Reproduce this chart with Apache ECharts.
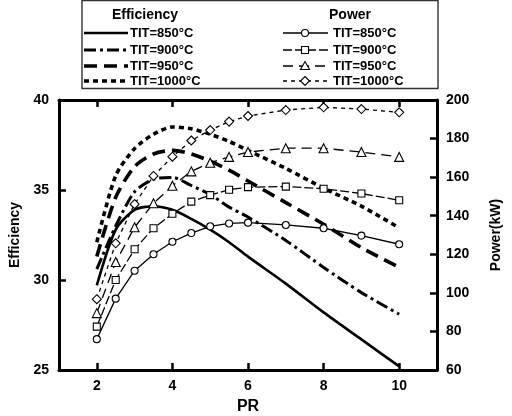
<!DOCTYPE html>
<html>
<head>
<meta charset="utf-8">
<script src="https://cdn.jsdelivr.net/npm/echarts@6/dist/echarts.min.js"></script>
<style>
  html, body { margin: 0; padding: 0; background: #fff; }
  #chart { width: 512px; height: 416px; }
</style>
</head>
<body>
<div id="chart"></div>
<script>
// Pressure ratio sampling points shared by every curve
const prValues = [2, 2.5, 3, 3.5, 4, 4.5, 5, 5.5, 6, 7, 8, 9, 10];
const prTicks = [2, 4, 6, 8, 10];
const effTicks = [25, 30, 35, 40];
const powerTicks = [60, 80, 100, 120, 140, 160, 180, 200];

// Efficiency (left axis) for each turbine inlet temperature
const effTIT850  = [29.7, 32.8, 33.9, 34.1, 33.9, 33.4, 32.8, 32.1, 31.3, 29.8, 28.2, 26.7, 25.2];
const effTIT900  = [30.6, 33.0, 34.9, 35.6, 35.7, 35.25, 34.75, 34.05, 33.5, 32.2, 30.7, 29.3, 28.1];
const effTIT950  = [31.3, 34.6, 36.3, 37.0, 37.2, 37.0, 36.6, 36.1, 35.5, 34.3, 33.1, 31.8, 30.7];
const effTIT1000 = [32.1, 35.8, 37.3, 38.1, 38.5, 38.4, 38.1, 37.7, 37.2, 36.2, 35.1, 34.1, 32.9];

// Power output in kW (right axis)
const powTIT850  = [76, 97, 111.5, 120, 126.5, 131, 134.5, 136, 136.4, 135.2, 133.5, 129.7, 125.2];
const powTIT900  = [82.5, 106.7, 122.6, 133.5, 141, 147.3, 150.7, 153.5, 154.8, 155.1, 154, 151.5, 148];
const powTIT950  = [89.5, 116, 134, 146.5, 155.5, 163, 167.5, 170.5, 173, 175, 175, 173, 170.5];
const powTIT1000 = [96.7, 125.7, 146, 160.6, 170.6, 179, 184.4, 188.8, 191.7, 194.8, 196.2, 195.3, 193.6];

const labels = ['TIT=850°C', 'TIT=900°C', 'TIT=950°C', 'TIT=1000°C'];

const pairs = arr => prValues.map((x, i) => [x, arr[i]]);
const FONT = 'Liberation Sans, Arial, sans-serif';

const effStyles = [
  { type: 'solid', width: 2.6 },
  { type: [12, 4, 3, 4], width: 3 },
  { type: [13, 7], width: 3.6 },
  { type: [5, 4], width: 3.6 }
];
const powStyles = [
  { type: 'solid', symbol: 'circle' },
  { type: [9, 3], symbol: 'rect' },
  { type: [10, 6], symbol: 'triangle' },
  { type: [4, 4], symbol: 'diamond' }
];

const effData = [effTIT850, effTIT900, effTIT950, effTIT1000];
const powData = [powTIT850, powTIT900, powTIT950, powTIT1000];

const series = [];
effData.forEach((d, k) => {
  series.push({
    name: 'Efficiency ' + labels[k],
    type: 'line',
    xAxisIndex: 0,
    yAxisIndex: 0,
    data: pairs(d),
    smooth: 0.25,
    showSymbol: false,
    symbol: 'none',
    lineStyle: { color: '#000', width: effStyles[k].width, type: effStyles[k].type, cap: 'butt' },
    z: 2
  });
});
powData.forEach((d, k) => {
  series.push({
    name: 'Power ' + labels[k],
    type: 'line',
    xAxisIndex: 0,
    yAxisIndex: 1,
    data: pairs(d),
    smooth: false,
    symbol: powStyles[k].symbol,
    symbolSize: powStyles[k].symbol === 'triangle' ? 9 : (powStyles[k].symbol === 'diamond' ? 9 : 7),
    itemStyle: { color: '#fff', borderColor: '#000', borderWidth: 1.1 },
    lineStyle: { color: '#000', width: 1.3, type: powStyles[k].type },
    z: 3
  });
});

// Legend box drawn as graphic elements: two columns with headers
const rowsY = [33, 50, 66, 81];
const legendGraphics = [
  { type: 'rect', shape: { x: 82, y: 0.5, width: 356, height: 88 },
    style: { fill: '#fff', stroke: '#333', lineWidth: 1.4 } },
  { type: 'text', x: 145, y: 15, style: { text: 'Efficiency', font: 'bold 14px ' + FONT, fill: '#000', align: 'center', verticalAlign: 'middle' } },
  { type: 'text', x: 350, y: 15, style: { text: 'Power', font: 'bold 14px ' + FONT, fill: '#000', align: 'center', verticalAlign: 'middle' } }
];
rowsY.forEach((y, k) => {
  legendGraphics.push({
    type: 'line', shape: { x1: 84, y1: y, x2: 128, y2: y },
    style: { stroke: '#000', lineWidth: effStyles[k].width, lineDash: effStyles[k].type === 'solid' ? null : effStyles[k].type }
  });
  legendGraphics.push({
    type: 'text', x: 130, y: y, style: { text: labels[k], font: 'bold 13px ' + FONT, fill: '#000', align: 'left', verticalAlign: 'middle' }
  });
  legendGraphics.push({
    type: 'line', shape: { x1: 283, y1: y, x2: 328, y2: y },
    style: { stroke: '#000', lineWidth: 1.3, lineDash: powStyles[k].type === 'solid' ? null : powStyles[k].type }
  });
  const cx = 305;
  let marker;
  if (k === 0) {
    marker = { type: 'circle', shape: { cx: cx, cy: y, r: 3.5 } };
  } else if (k === 1) {
    marker = { type: 'rect', shape: { x: cx - 3.5, y: y - 3.5, width: 7, height: 7 } };
  } else if (k === 2) {
    marker = { type: 'polygon', shape: { points: [[cx, y - 4.5], [cx + 4.5, y + 3.5], [cx - 4.5, y + 3.5]] } };
  } else {
    marker = { type: 'polygon', shape: { points: [[cx, y - 4.5], [cx + 4.5, y], [cx, y + 4.5], [cx - 4.5, y]] } };
  }
  marker.style = { fill: '#fff', stroke: '#000', lineWidth: 1.1 };
  legendGraphics.push(marker);
  legendGraphics.push({
    type: 'text', x: 333, y: y, style: { text: labels[k], font: 'bold 13px ' + FONT, fill: '#000', align: 'left', verticalAlign: 'middle' }
  });
});

const axisLine = { show: true, onZero: false, lineStyle: { color: '#000', width: 3 } };
const tickStyle = { color: '#000', width: 2.5 };
const labelStyle = { color: '#000', fontFamily: FONT, fontWeight: 'bold', fontSize: 14 };

const option = {
  animation: false,
  backgroundColor: '#fff',
  grid: { left: 59, right: 75, top: 100, bottom: 46, containLabel: false, outerBoundsMode: 'none' },
  xAxis: [
    {
      type: 'value', min: 1, max: 11, position: 'bottom',
      axisLine: axisLine,
      axisTick: { show: true, inside: true, length: 7, lineStyle: tickStyle, customValues: prTicks },
      axisLabel: Object.assign({ margin: 9, customValues: prTicks }, labelStyle),
      splitLine: { show: false },
      name: 'PR', nameLocation: 'middle', nameGap: 29,
      nameTextStyle: { color: '#000', fontFamily: FONT, fontWeight: 'bold', fontSize: 16 }
    },
    {
      type: 'value', min: 1, max: 11, position: 'top',
      axisLine: axisLine,
      axisTick: { show: true, inside: true, length: 7, lineStyle: tickStyle, customValues: prTicks },
      axisLabel: { show: false },
      splitLine: { show: false }
    }
  ],
  yAxis: [
    {
      type: 'value', min: 25, max: 40, interval: 5, position: 'left',
      axisLine: axisLine,
      axisTick: { show: true, inside: true, length: 7, lineStyle: tickStyle, customValues: effTicks },
      axisLabel: Object.assign({ margin: 10, customValues: effTicks }, labelStyle),
      splitLine: { show: false },
      name: 'Efficiency', nameLocation: 'middle', nameGap: 35, nameRotate: 90,
      nameTextStyle: { color: '#000', fontFamily: FONT, fontWeight: 'bold', fontSize: 14 }
    },
    {
      type: 'value', min: 60, max: 200, interval: 20, position: 'right',
      axisLine: axisLine,
      axisTick: { show: true, inside: true, length: 7, lineStyle: tickStyle, customValues: powerTicks },
      axisLabel: Object.assign({ margin: 9, customValues: powerTicks }, labelStyle),
      splitLine: { show: false },
      name: 'Power(kW)', nameLocation: 'middle', nameGap: 52, nameRotate: 90,
      nameTextStyle: { color: '#000', fontFamily: FONT, fontWeight: 'bold', fontSize: 14 }
    }
  ],
  series: series,
  graphic: legendGraphics
};

const chart = echarts.init(document.getElementById('chart'), null, { renderer: 'canvas' });
chart.setOption(option);
</script>
</body>
</html>
